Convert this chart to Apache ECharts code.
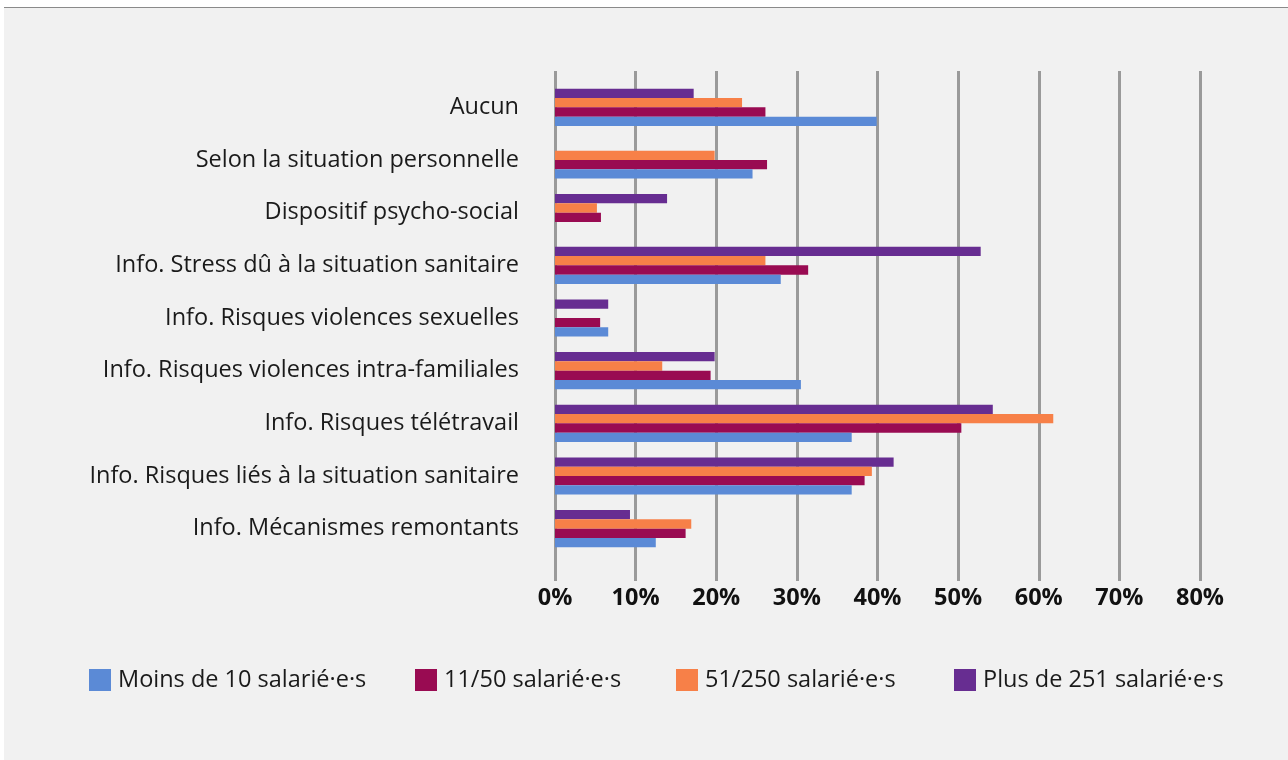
<!DOCTYPE html>
<html>
<head>
<meta charset="utf-8">
<script src="https://cdn.jsdelivr.net/npm/echarts@6/dist/echarts.min.js"></script>
<style>
html,body{margin:0;padding:0;background:#ffffff;width:1288px;height:760px;overflow:hidden;}
#panel{position:absolute;left:4px;top:7px;right:0;bottom:0;background:#f1f1f1;border-top:1px solid #8a8a8a;}
#chart{position:absolute;left:0;top:0;width:1288px;height:760px;}
</style>
</head>
<body>
<div id="panel"></div>
<div id="chart"></div>
<script>
const categories = [
  'Aucun',
  'Selon la situation personnelle',
  'Dispositif psycho-social',
  'Info. Stress dû à la situation sanitaire',
  'Info. Risques violences sexuelles',
  'Info. Risques violences intra-familiales',
  'Info. Risques télétravail',
  'Info. Risques liés à la situation sanitaire',
  'Info. Mécanismes remontants'
];
const seriesNames = ['Moins de 10 salarié·e·s', '11/50 salarié·e·s', '51/250 salarié·e·s', 'Plus de 251 salarié·e·s'];
const moins10 = [39.9, 24.5, 0, 28.0, 6.6, 30.5, 36.8, 36.8, 12.5];
const de11a50 = [26.1, 26.3, 5.7, 31.4, 5.6, 19.3, 50.4, 38.4, 16.2];
const de51a250 = [23.2, 19.8, 5.2, 26.1, 0, 13.3, 61.8, 39.3, 16.9];
const plus251 = [17.2, 0, 13.9, 52.8, 6.6, 19.8, 54.3, 42.0, 9.3];
const xTicks = [0, 10, 20, 30, 40, 50, 60, 70, 80];

const colors = ['#5B8AD6', '#990B52', '#F78048', '#672D91'];
const values = [moins10, de11a50, de51a250, plus251];
const fontFam = '"Open Sans", "Noto Sans", sans-serif';

const chart = echarts.init(document.getElementById('chart'));
const legendLefts = [89, 415, 676, 954];

const drawOrder = [3, 2, 1, 0];
const series = drawOrder.map(i => ({
  name: seriesNames[i],
  type: 'bar',
  xAxisIndex: 0,
  yAxisIndex: 0,
  data: values[i].map(v => v === 0 ? null : v),
  barWidth: 9.3,
  barGap: '0%',
  itemStyle: { color: colors[i] },
  emphasis: { disabled: true },
  z: 3
}));
series.push({
  type: 'bar', xAxisIndex: 1, yAxisIndex: 1, data: [], silent: true
});

const option = {
  animation: false,
  backgroundColor: 'transparent',
  color: colors,
  textStyle: { fontFamily: fontFam },
  legend: seriesNames.map((n, i) => ({
    data: [{ name: n, icon: 'rect', itemStyle: { color: colors[i] } }],
    left: legendLefts[i],
    top: 668,
    itemWidth: 22,
    itemHeight: 22,
    itemGap: 6,
    selectedMode: false,
    padding: 0,
    textStyle: { fontFamily: fontFam, fontSize: 23.5, color: '#1a1a1a', padding: [0, 0, 0, 2] }
  })),
  grid: [
    { left: 555, right: 88, top: 81, height: 474, containLabel: false },
    { left: 555, right: 88, top: 71, bottom: 179, containLabel: false }
  ],
  xAxis: [
    {
      gridIndex: 0, type: 'value', min: 0, max: 80, interval: 10,
      axisLine: { show: false }, axisTick: { show: false },
      axisLabel: { show: false }, splitLine: { show: false }
    },
    {
      gridIndex: 1, type: 'value', min: 0, max: 80, interval: 10,
      axisLine: { show: false }, axisTick: { show: false },
      splitLine: { show: true, lineStyle: { color: '#9a9a9a', width: 3 } },
      axisLabel: {
        show: true, margin: 5,
        fontFamily: fontFam, fontWeight: 'bold', fontSize: 23.5, color: '#111',
        customValues: xTicks,
        formatter: v => v + '%'
      }
    }
  ],
  yAxis: [
    {
      gridIndex: 0, type: 'category', data: categories, inverse: true,
      axisLine: { show: false }, axisTick: { show: false },
      splitLine: { show: false },
      axisLabel: { margin: 36, fontFamily: fontFam, fontSize: 23.5, color: '#1a1a1a' }
    },
    {
      gridIndex: 1, type: 'value', show: false, min: 0, max: 1
    }
  ],
  series: series
};
chart.setOption(option);
</script>
</body>
</html>
